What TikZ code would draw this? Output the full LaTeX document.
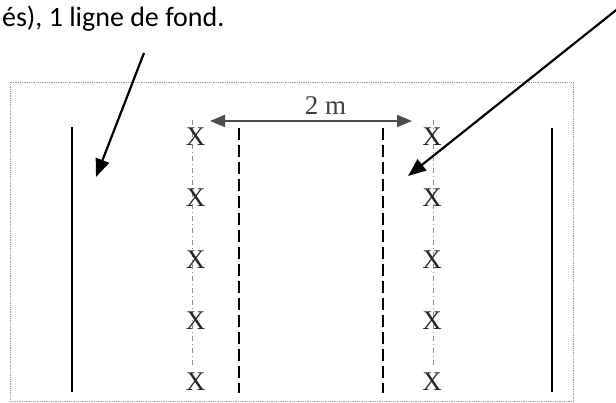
\documentclass[tikz,border=0pt]{standalone}
\usepackage{fontspec}
\setmainfont{Liberation Serif}
\newfontfamily\legendfont{Carlito}
\usetikzlibrary{arrows.meta}

\begin{document}
\begin{tikzpicture}[x=1pt, y=-1pt, every node/.style={font=\fontsize{27}{30}\selectfont}]
    \tikzset{cone/.style={text=black!85, inner sep=0pt}}
    \tikzset{axis/.style={draw, gray!90, line width=1pt, dash pattern=on 5pt off 3pt on 1pt off 3pt}}
    \tikzset{lane/.style={draw, line width=2.2pt, dash pattern=on 12pt off 5pt}}
    \tikzset{border/.style={draw, line width=2pt}}
    \tikzset{pointer/.style={draw, -{Triangle[length=18pt, width=14pt]}, line width=2.2pt}}
    \tikzset{gap/.style={draw, black!70, {Triangle[length=15pt, width=12pt]}-{Triangle[length=15pt, width=12pt]}, line width=2pt}}

    \useasboundingbox (0,0) rectangle (616,403);
    \draw [gray!80, line width=0.8pt, densely dotted] (10,82) rectangle (573,401);

    \node [anchor=base east, font=\legendfont\fontsize{28}{32}\selectfont] (legend) at (228,27) {és), 1 ligne de fond.};

    % side lines and lanes
    \draw [border] (72,127) -- (72,392);
    \draw [border] (552,128) -- (552,392);
    \draw [lane] (239,128) -- (239,393);
    \draw [lane] (383,128) -- (383,393);
    \draw [axis] (192,120) -- (192,365);
    \draw [axis] (433,120) -- (433,365);

    \node [cone] (xl1) at (195.5,137) {X};
    \node [cone] (xl2) at (195.5,198) {X};
    \node [cone] (xl3) at (195.5,260) {X};
    \node [cone] (xl4) at (195.5,321) {X};
    \node [cone] (xl5) at (195.5,382) {X};
    \node [cone] (xr1) at (432,137) {X};
    \node [cone] (xr2) at (432,198) {X};
    \node [cone] (xr3) at (432,260) {X};
    \node [cone] (xr4) at (432,321) {X};
    \node [cone] (xr5) at (432,382) {X};

    \coordinate (g1) at (210,121);
    \coordinate (g2) at (412,121);
    \path [gap] (g1) -- (g2);
    \node [anchor=base, text=black!75] (dist) at (325.5,115) {2 m};

    \coordinate (p1) at (144,53);
    \coordinate (t1) at (96,177);
    \coordinate (p2) at (620,7);
    \coordinate (t2) at (408,176);
    \path [pointer] (p1) -- (t1);
    \path [pointer] (p2) -- (t2);
\end{tikzpicture}
\end{document}
